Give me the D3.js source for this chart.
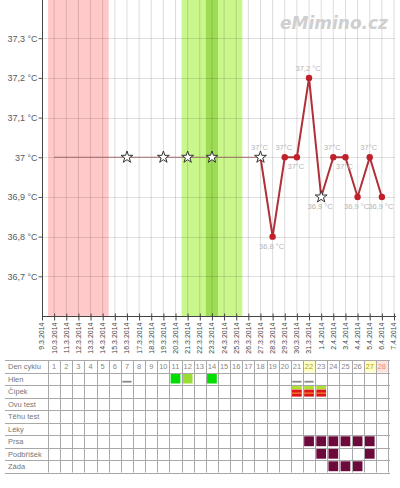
<!DOCTYPE html>
<html><head><meta charset="utf-8">
<script src="https://cdn.jsdelivr.net/npm/d3@7"></script>
<style>body{margin:0;background:#fff}svg{display:block}</style>
</head><body>
<svg id="c" width="400" height="488"></svg>
<script>
// ---- data ----
const dates = ["9.3.2014","10.3.2014","11.3.2014","12.3.2014","13.3.2014","14.3.2014","15.3.2014","16.3.2014","17.3.2014","18.3.2014","19.3.2014","20.3.2014","21.3.2014","22.3.2014","23.3.2014","24.3.2014","25.3.2014","26.3.2014","27.3.2014","28.3.2014","29.3.2014","30.3.2014","31.3.2014","1.4.2014","2.4.2014","3.4.2014","4.4.2014","5.4.2014","6.4.2014","7.4.2014"];
const yTicks = [36.7, 36.8, 36.9, 37.0, 37.1, 37.2, 37.3];
const baselineDates = ["10.3.2014", "27.3.2014"];
const baselineTemp = 37.0;
const baselineStars = ["16.3.2014","19.3.2014","21.3.2014","23.3.2014"];
const measDates = ["27.3.2014","28.3.2014","29.3.2014","30.3.2014","31.3.2014","1.4.2014","2.4.2014","3.4.2014","4.4.2014","5.4.2014","6.4.2014"];
const measTemps = [37.0, 36.8, 37.0, 37.0, 37.2, 36.9, 37.0, 37.0, 36.9, 37.0, 36.9];
const measMarks = ["star","dot","dot","dot","dot","star","dot","dot","dot","dot","dot"];
const measLabelPos = ["above","below","above","below","above","below","above","below","below","above","below"];
const menstruationDates = ["10.3.2014","14.3.2014"];
const fertileDates = ["21.3.2014","25.3.2014"];
const ovulationDate = "23.3.2014";
const rowLabels = ["Den cyklu","Hlen","Čípek","Ovu test","Těhu test","Léky","Prsa","Podbříšek","Záda"];
const cycleDays = d3.range(1, 29);
const headerStyle = {22:"yellow", 27:"yellow", 28:"red"};
const hlenDash = [7, 21, 22];
const hlenSquares = [[11,"#00dd00"],[12,"#99dd33"],[14,"#00dd00"]];
const cipekDays = [21, 22, 23];
const prsaDays = [22, 23, 24, 25, 26, 27];
const podbrisekDays = [23, 24, 27];
const zadaDays = [24, 25, 26];

// ---- scales ----
const svg = d3.select("#c");
const x = d3.scalePoint().domain(dates).range([42, 394]);
const step = x.step();
const y = d3.scaleLinear().domain([36.6, 37.4]).range([316, -1.5]);
const fmt = v => Math.abs(v - 37) < 1e-9 ? "37°C" : (d3.format(".1f")(v).replace(".", ",") + " °C");
const yFmt = v => (Math.abs(v - 37) < 1e-9 ? "37" : d3.format(".1f")(v).replace(".", ",")) + " °C";

// bands
const g = svg.append("g");
g.append("rect").attr("x", x(menstruationDates[0]) - step/2).attr("y", 0)
  .attr("width", x(menstruationDates[1]) - x(menstruationDates[0]) + step).attr("height", y(36.6))
  .attr("fill", "#ffc9c9");
g.append("rect").attr("x", x(fertileDates[0]) - step/2).attr("y", 0)
  .attr("width", x(fertileDates[1]) - x(fertileDates[0]) + step).attr("height", y(36.6))
  .attr("fill", "#c9f78b");
g.append("rect").attr("x", x(ovulationDate) - step/2).attr("y", 0)
  .attr("width", step).attr("height", y(36.6))
  .attr("fill", "#9fdc55");

// grid
g.selectAll(".vg").data(dates.slice(1)).join("line")
  .attr("x1", d => x(d)).attr("x2", d => x(d)).attr("y1", 0).attr("y2", y(36.6))
  .attr("stroke", "rgba(0,0,0,0.14)").attr("stroke-width", 1);
g.selectAll(".hg").data(yTicks).join("line")
  .attr("x1", 42).attr("x2", 395).attr("y1", d => Math.round(y(d)) + 0.5).attr("y2", d => Math.round(y(d)) + 0.5)
  .attr("stroke", "rgba(0,0,0,0.12)").attr("stroke-width", 1);

// axes
const yAxis = svg.append("g").attr("transform", "translate(42.5,0)")
  .call(d3.axisLeft(y).tickValues(yTicks).tickSize(4).tickFormat(yFmt));
yAxis.select(".domain").attr("d", "M0,0V" + y(36.6)).attr("stroke", "#444");
yAxis.selectAll(".tick line").attr("stroke", "#555");
yAxis.selectAll("text").attr("font-family", "Liberation Sans, Arial, sans-serif").attr("font-size", 9).attr("fill", "#5a5a5a").attr("x", -5);

const xAxis = svg.append("g").attr("transform", "translate(0," + (y(36.6) + 0.5) + ")");
xAxis.append("line").attr("x1", 42).attr("x2", 396).attr("stroke", "#444");
xAxis.selectAll(".xt").data(dates).join("line")
  .attr("x1", d => x(d) + 0.5).attr("x2", d => x(d) + 0.5).attr("y1", -3).attr("y2", 4).attr("stroke", "#444");
xAxis.selectAll(".xl").data(dates).join("text")
  .attr("transform", d => `translate(${x(d)},6) rotate(-90)`)
  .attr("text-anchor", "end").attr("dy", "0.35em")
  .attr("font-family", "Liberation Sans, Arial, sans-serif").attr("font-size", 7).attr("fill", "#444")
  .text(d => d);

// watermark
svg.append("text").attr("x", 388).attr("y", 29).attr("text-anchor", "end")
  .attr("font-family", "DejaVu Sans, sans-serif").attr("font-weight", "bold").attr("font-style", "italic")
  .attr("font-size", 17).attr("fill", "#cfcfcf").text("eMimino.cz");

// baseline line
svg.append("line").attr("x1", x(baselineDates[0])).attr("x2", x(baselineDates[1]))
  .attr("y1", y(baselineTemp)).attr("y2", y(baselineTemp))
  .attr("stroke", "#a06868").attr("stroke-width", 1);

// measured line
const meas = measDates.map((d, i) => ({d, v: measTemps[i], m: measMarks[i], p: measLabelPos[i]}));
svg.append("path").datum(meas)
  .attr("d", d3.line().x(p => x(p.d)).y(p => y(p.v)))
  .attr("fill", "none").attr("stroke", "#b0303a").attr("stroke-width", 2);

const star = d3.symbol().type(d3.symbolStar).size(44);
svg.selectAll(".bs").data(baselineStars).join("path")
  .attr("d", star).attr("transform", d => `translate(${x(d)},${y(baselineTemp)})`)
  .attr("fill", "#fff").attr("stroke", "#333").attr("stroke-width", 1);
svg.selectAll(".ms").data(meas.filter(p => p.m === "star")).join("path")
  .attr("d", star).attr("transform", p => `translate(${x(p.d)},${y(p.v)})`)
  .attr("fill", "#fff").attr("stroke", "#333").attr("stroke-width", 1);
svg.selectAll(".md").data(meas.filter(p => p.m === "dot")).join("circle")
  .attr("cx", p => x(p.d)).attr("cy", p => y(p.v)).attr("r", 3.2).attr("fill", "#c0202a");
svg.selectAll(".ml").data(meas).join("text")
  .attr("x", p => x(p.d) - 1).attr("y", p => p.p === "above" ? y(p.v) - 7 : y(p.v) + 12)
  .attr("text-anchor", "middle")
  .attr("font-family", "Liberation Sans, Arial, sans-serif").attr("font-size", 7.5).attr("fill", "#b5b5b5")
  .text(p => fmt(p.v));

// ---- table ----
const tTop = 360, rowH = 12.5, tLeft = 5, tRight = 390;
const colX = d => x(dates[d]) - step/2;
const t = svg.append("g");
Object.entries(headerStyle).forEach(([d, s]) => {
  t.append("rect").attr("x", colX(+d)).attr("y", tTop).attr("width", step).attr("height", rowH)
    .attr("fill", s === "yellow" ? "#ffffc8" : "#fde3de");
});
const cellY = r => tTop + r * rowH;
t.selectAll(".hd").data(hlenDash).join("rect")
  .attr("x", d => colX(d) + 1.5).attr("y", cellY(1) + 8.3).attr("width", step - 3).attr("height", 1.8).attr("fill", "#8a8a8a");
t.selectAll(".hs").data(hlenSquares).join("rect")
  .attr("x", d => colX(d[0]) + 1.2).attr("y", cellY(1) + 1.5).attr("width", step - 2.4).attr("height", rowH - 3)
  .attr("fill", d => d[1]);
cipekDays.forEach(d => {
  t.append("rect").attr("x", colX(d) + 1.2).attr("y", cellY(2) + 0.8).attr("width", step - 2.4).attr("height", 3.6).attr("fill", "#aee032");
  t.append("rect").attr("x", colX(d) + 1.2).attr("y", cellY(2) + 4.6).attr("width", step - 2.4).attr("height", 7).attr("fill", "#dd1616");
  t.append("rect").attr("x", colX(d) + 1.2).attr("y", cellY(2) + 7.6).attr("width", step - 2.4).attr("height", 1).attr("fill", "#ff9a40");
});
[[6, prsaDays],[7, podbrisekDays],[8, zadaDays]].forEach(([r, days]) => {
  t.selectAll(".s" + r).data(days).join("rect")
    .attr("x", d => colX(d) + 1.2).attr("y", cellY(r) + 1.3).attr("width", step - 2.4).attr("height", rowH - 2.6)
    .attr("fill", "#6c0a3c");
});
d3.range(rowLabels.length + 1).forEach(i => {
  t.append("line").attr("x1", tLeft).attr("x2", tRight).attr("y1", Math.round(cellY(i)) + 0.5).attr("y2", Math.round(cellY(i)) + 0.5)
    .attr("stroke", "#a8a8a8");
});
[0, ...cycleDays].forEach(d => {
  const xx = d === 0 ? colX(1) : colX(d) + step;
  t.append("line").attr("x1", Math.round(xx) + 0.5).attr("x2", Math.round(xx) + 0.5)
    .attr("y1", tTop).attr("y2", cellY(rowLabels.length)).attr("stroke", "#a8a8a8");
});
t.selectAll(".rl").data(rowLabels).join("text")
  .attr("x", 8).attr("y", (d, i) => cellY(i) + 9)
  .attr("font-family", "Liberation Sans, Arial, sans-serif").attr("font-size", 7.5).attr("fill", "#777")
  .text(d => d);
t.selectAll(".dn").data(cycleDays).join("text")
  .attr("x", d => colX(d) + step/2).attr("y", cellY(0) + 9).attr("text-anchor", "middle")
  .attr("font-family", "Liberation Sans, Arial, sans-serif").attr("font-size", 7.5)
  .attr("fill", d => headerStyle[d] === "yellow" ? "#b8a200" : headerStyle[d] === "red" ? "#e98a80" : "#888")
  .text(d => d);
</script>
</body></html>
